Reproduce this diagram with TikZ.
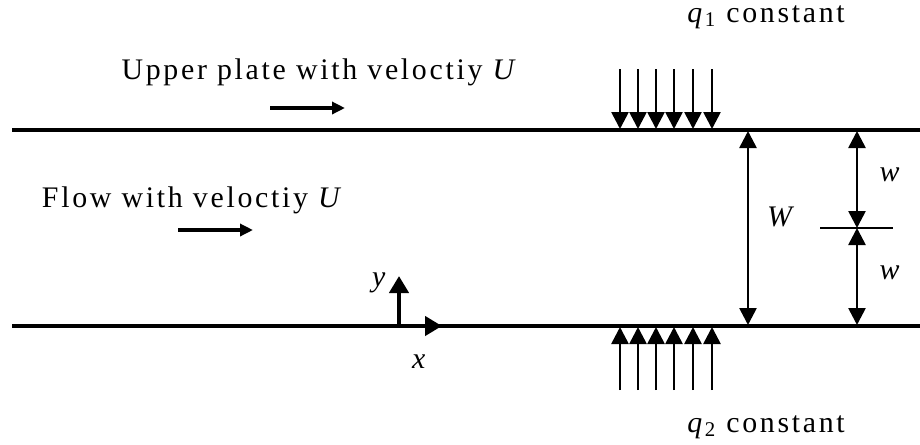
\documentclass[tikz,border=0pt]{standalone}
\usepackage{fontspec}
\setmainfont{Liberation Serif}[LetterSpace=9]
\usetikzlibrary{arrows.meta,positioning,calc}

\begin{document}
\begin{tikzpicture}[x=0.02cm, y=-0.02cm, every node/.style={font=\fontsize{17}{20}\selectfont, inner sep=0pt}]
\tikzset{plate/.style={line width=2.4pt}}
\tikzset{arrow/.style={-{Triangle[length=3.4mm, width=3.4mm]}, line width=1.5pt}}
\tikzset{dimarrow/.style={{Triangle[length=3.4mm, width=3.4mm]}-{Triangle[length=3.4mm, width=3.4mm]}, line width=1.5pt}}
\tikzset{velarrow/.style={-{Triangle[length=2.6mm, width=2.4mm]}, line width=2pt}}
\tikzset{axis/.style={-{Triangle[length=3.4mm, width=3.8mm]}, line width=2.4pt}}
\useasboundingbox (0,0) rectangle (920,444);
% plates
\coordinate (ul) at (12,130);
\coordinate (ur) at (920,130);
\coordinate (ll) at (12,326);
\coordinate (lr) at (920,326);
\draw[plate] (ul) -- (ur);
\draw[plate] (ll) -- (lr);
% heat flux
\foreach \i/\x in {1/620,2/638,3/656,4/674,5/693,6/712} {
  \coordinate (qa\i) at (\x,69);
  \coordinate (qb\i) at (\x,129);
  \coordinate (qc\i) at (\x,327);
  \coordinate (qd\i) at (\x,390);
  \draw[arrow] (qa\i) -- (qb\i);
  \draw[arrow] (qd\i) -- (qc\i);
}
\node (q1) at (766,17) {\textit{q}\textsubscript{1} constant};
\node (q2) at (766,427) {\textit{q}\textsubscript{2} constant};
% velocities
\node (upper) at (320,72) {Upper plate with veloctiy \textit{U}};
\coordinate (ua) at (270,108);
\coordinate (ub) at (345,108);
\draw[velarrow] (ua) -- (ub);
\node (flow) at (193,200) {Flow with veloctiy \textit{U}};
\coordinate (fa) at (178,230);
\coordinate (fb) at (253,230);
\draw[velarrow] (fa) -- (fb);
% widths
\coordinate (Wt) at (748,131);
\coordinate (Wb) at (748,325);
\draw[dimarrow] (Wt) -- (Wb);
\node (W) at (782,217) {\textit{W}};
\coordinate (wt) at (857,131);
\coordinate (wm) at (857,228);
\coordinate (wb) at (857,325);
\draw[dimarrow] (wt) -- (wm);
\draw[dimarrow] (wm) -- (wb);
\coordinate (ml) at (820,228);
\coordinate (mr) at (893,228);
\draw[line width=0.8pt] (ml) -- (mr);
\node (w1) at (891,175) {\textit{w}};
\node (w2) at (891,273) {\textit{w}};
% axes
\coordinate (o) at (399,326);
\coordinate (oy) at (399,276);
\coordinate (ox) at (442,326);
\draw[axis] (o) -- (oy);
\draw[axis] (o) -- (ox);
\node (y) at (380,283) {\textit{y}};
\node (x) at (420,362) {\textit{x}};
\end{tikzpicture}
\end{document}
